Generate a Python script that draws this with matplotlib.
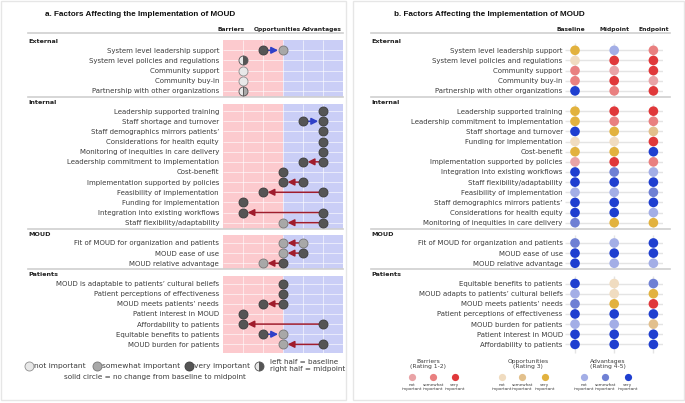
import matplotlib
matplotlib.use("Agg")
import matplotlib.pyplot as plt
import matplotlib.transforms as mtransforms
from matplotlib.patches import Rectangle

plt.rcParams['font.family'] = ['DejaVu Sans']

# ---------------- DATA ----------------
groups = ["External", "Internal", "MOUD", "Patients"]

# Panel a: rating (1-5) at baseline and midpoint, importance (0 not, 1 somewhat, 2 very)
a_labels = [
    ["System level leadership support", "System level policies and regulations",
     "Community support", "Community buy-in", "Partnership with other organizations"],
    ["Leadership supported training", "Staff shortage and turnover",
     "Staff demographics mirrors patients\u2019", "Considerations for health equity",
     "Monitoring of inequities in care delivery", "Leadership commitment to implementation",
     "Cost-benefit", "Implementation supported by policies", "Feasibility of implementation",
     "Funding for implementation", "Integration into existing workflows",
     "Staff flexibility/adaptability"],
    ["Fit of MOUD for organization and patients", "MOUD ease of use", "MOUD relative advantage"],
    ["MOUD is adaptable to patients\u2019 cultural beliefs", "Patient perceptions of effectiveness",
     "MOUD meets patients\u2019 needs", "Patient interest in MOUD", "Affordability to patients",
     "Equitable benefits to patients", "MOUD burden for patients"],
]
a_base = [[2, 1, 1, 1, 1],
          [5, 4, 5, 5, 5, 5, 3, 4, 5, 1, 5, 5],
          [4, 4, 3],
          [3, 3, 3, 1, 5, 2, 5]]
a_mid = [[3, 1, 1, 1, 1],
         [5, 5, 5, 5, 5, 4, 3, 3, 2, 1, 1, 3],
         [3, 3, 2],
         [3, 3, 2, 1, 1, 3, 3]]
a_base_imp = [[2, 0, 0, 0, 0],
              [2, 2, 2, 2, 2, 2, 2, 2, 2, 2, 2, 2],
              [1, 2, 2],
              [2, 2, 2, 2, 2, 2, 2]]
a_mid_imp = [[1, 2, 0, 0, 1],
             [2, 2, 2, 2, 2, 2, 2, 2, 2, 2, 2, 1],
             [1, 1, 1],
             [2, 2, 2, 2, 2, 1, 1]]
a_columns = ["Barriers", "Opportunities", "Advantages"]

# Panel b: category code (B barrier, O opportunity, A advantage) + importance (0,1,2)
b_labels = [
    ["System level leadership support", "System level policies and regulations",
     "Community support", "Community buy-in", "Partnership with other organizations"],
    ["Leadership supported training", "Leadership commitment to implementation",
     "Staff shortage and turnover", "Funding for implementation", "Cost-benefit",
     "Implementation supported by policies", "Integration into existing workflows",
     "Staff flexibility/adaptability", "Feasibility of implementation",
     "Staff demographics mirrors patients\u2019", "Considerations for health equity",
     "Monitoring of inequities in care delivery"],
    ["Fit of MOUD for organization and patients", "MOUD ease of use", "MOUD relative advantage"],
    ["Equitable benefits to patients", "MOUD adapts to patients\u2019 cultural beliefs",
     "MOUD meets patients\u2019 needs", "Patient perceptions of effectiveness",
     "MOUD burden for patients", "Patient interest in MOUD", "Affordability to patients"],
]
b_times = ["Baseline", "Midpoint", "Endpoint"]
b_baseline = [["O2", "O0", "B1", "B1", "A2"],
              ["O2", "O2", "A2", "O0", "O2", "B0", "A2", "A2", "A0", "A2", "A2", "A1"],
              ["A1", "A2", "A2"],
              ["A2", "A0", "A1", "A2", "A0", "A2", "A2"]]
b_midpoint = [["A0", "B2", "B0", "B2", "B1"],
              ["B2", "B1", "O2", "O0", "O2", "B2", "A1", "A2", "A0", "A2", "A2", "O2"],
              ["A0", "A2", "A0"],
              ["O0", "O0", "O2", "A2", "A0", "A2", "A2"]]
b_endpoint = [["B1", "B2", "B2", "B0", "B2"],
              ["B2", "B1", "O1", "B2", "A2", "B1", "A0", "A2", "A1", "A2", "A0", "O2"],
              ["A2", "A2", "A0"],
              ["A1", "O2", "B2", "A2", "O1", "A2", "A2"]]

legend_groups = ["Barriers\n(Rating 1-2)", "Opportunities\n(Rating 3)", "Advantages\n(Rating 4-5)"]
legend_codes = [["B0", "B1", "B2"], ["O0", "O1", "O2"], ["A0", "A1", "A2"]]
imp_names = ["not\nimportant", "somewhat\nimportant", "very\nimportant"]

# ---------------- STYLE ----------------
b_colors = {"B0": "#e9a3a6", "B1": "#e98080", "B2": "#e0383a",
            "O0": "#f0dcc0", "O1": "#e2c08c", "O2": "#e2b23e",
            "A0": "#a3aee6", "A1": "#6f80d4", "A2": "#1f3fd0"}
a_face = ["#e8e8e8", "#a8a8a8", "#555555"]
a_edge = ["#8e8e8e", "#767676", "#3c3c3c"]
pink = "#fccace"
blue = "#cacef6"
txt = "#3c3c3c"
sepc = "#cfcfcf"

W, H = 685, 403
fig = plt.figure(figsize=(W / 100, H / 100), dpi=100)
ov = fig.add_axes([0, 0, 1, 1], zorder=-5)
ov.set_xlim(0, W)
ov.set_ylim(H, 0)
ov.axis("off")

# panel frames
ov.add_patch(Rectangle((1, 1), 345, 399, fill=False, ec="#e6e6e6", lw=1))
ov.add_patch(Rectangle((353, 1), 331, 399, fill=False, ec="#e6e6e6", lw=1))

# row positions (one empty slot between groups for the group heading)
rows = []
start = 0
for lab in a_labels:
    rows.append(list(range(start, start + len(lab))))
    start += len(lab) + 1

ylim = (30.54, -2.2)
ax_bottom = (H - 360) / H
ax_height = 332 / H

axA = fig.add_axes([222.7 / W, ax_bottom, 120.3 / W, ax_height])
axB = fig.add_axes([565.2 / W, ax_bottom, 98.0 / W, ax_height])

for ax in (axA, axB):
    ax.set_ylim(*ylim)
    for s in ax.spines.values():
        s.set_visible(False)
    ax.set_xticks([])
    ax.patch.set_alpha(0)

axA.set_xlim(0, 6)
axB.set_xlim(-0.25, 2.25)

all_rows = [r for g in rows for r in g]
axA.set_yticks(all_rows)
axA.set_yticklabels([l for g in a_labels for l in g])
axB.set_yticks(all_rows)
axB.set_yticklabels([l for g in b_labels for l in g])
axA.tick_params(axis="y", length=0, pad=2.6, labelsize=5.0, labelcolor=txt)
axB.tick_params(axis="y", length=0, pad=1.8, labelsize=5.0, labelcolor=txt)

trA = mtransforms.blended_transform_factory(axA.transAxes, axA.transData)
trB = mtransforms.blended_transform_factory(axB.transAxes, axB.transData)

# ---------------- PANEL A ----------------
for gi, g in enumerate(rows):
    top = g[0] - 1.0 if gi == 0 else g[0] - 0.75
    bot = g[-1] + (0.85 if gi == len(rows) - 1 else 0.6)
    axA.fill_between([0, 3], top, bot, color=pink, lw=0, zorder=0)
    axA.fill_between([3, 6], top, bot, color=blue, lw=0, zorder=0)
    axA.vlines([1, 2, 3, 4, 5], top, bot, color="white", lw=0.7, alpha=0.6, zorder=1)
    axA.hlines(g, 0, 6, color="white", lw=0.7, alpha=0.6, zorder=1)
    axA.text(-1.618, g[0] - 0.85, groups[gi], transform=trA, fontsize=4.6,
             fontweight="bold", color="#202020", va="center", ha="left")
    if gi < len(rows) - 1:
        axA.plot([-1.618, 1.0], [g[-1] + 0.6] * 2, transform=trA, color=sepc, lw=1.2,
                 clip_on=False, zorder=2)

axA.plot([-1.618, 1.0], [-1.71] * 2, transform=trA, color=sepc, lw=1.2, clip_on=False)
for name, xc in zip(a_columns, [0.41, 2.71, 4.96]):
    axA.text(xc, -2.05, name, fontsize=4.3, fontweight="bold", color="#202020",
             ha="center", va="center", clip_on=False)

for gi, g in enumerate(rows):
    for k, y in enumerate(g):
        b, m = a_base[gi][k], a_mid[gi][k]
        bi, mi = a_base_imp[gi][k], a_mid_imp[gi][k]
        if b != m:
            col = "#2f3fc8" if m > b else "#a01c2c"
            axA.annotate("", xy=(m, y), xytext=(b, y),
                         arrowprops=dict(arrowstyle="-|>,head_length=0.4,head_width=0.2",
                                         color=col, lw=1.1, shrinkA=0, shrinkB=3.4,
                                         mutation_scale=10),
                         zorder=2)
            axA.plot([b], [y], "o", ms=6.5, mfc=a_face[bi], mec=a_edge[bi], mew=0.6, zorder=3)
            axA.plot([m], [y], "o", ms=6.5, mfc=a_face[mi], mec=a_edge[mi], mew=0.6, zorder=3)
        elif bi != mi:
            axA.plot([b], [y], "o", ms=6.5, fillstyle="left", mfc=a_face[bi],
                     mfcalt=a_face[mi], mec="#555555", mew=0.6, zorder=3)
        else:
            axA.plot([b], [y], "o", ms=6.5, mfc=a_face[bi], mec=a_edge[bi], mew=0.6, zorder=3)

# legend panel a
ly = 366
for xc, imp, lab in zip([29, 97, 189], [0, 1, 2],
                        ["not important", "somewhat important", "very important"]):
    ov.plot([xc], [ly], "o", ms=6.5, mfc=a_face[imp], mec=a_edge[imp], mew=0.6)
    ov.text(xc + 5, ly, lab, fontsize=5.4, color=txt, va="center", ha="left")
ov.plot([259], [ly], "o", ms=6.5, fillstyle="left", mfc=a_face[0], mfcalt=a_face[2],
        mec="#555555", mew=0.6)
ov.text(270, 362.5, "left half = baseline", fontsize=5.2, color=txt, va="center", ha="left")
ov.text(270, 368.5, "right half = midpoint", fontsize=5.2, color=txt, va="center", ha="left")
ov.text(155, 376.5, "solid circle = no change from baseline to midpoint", fontsize=5.2,
        color=txt, va="center", ha="center")

# ---------------- PANEL B ----------------
for gi, g in enumerate(rows):
    top = g[0] - 0.75
    bot = g[-1] + (0.85 if gi == len(rows) - 1 else 0.5)
    axB.vlines([0, 1, 2], top, bot, color="#e4e4e4", lw=1.0, zorder=0)
    axB.hlines(g, -0.25, 2.25, color="#e4e4e4", lw=1.0, zorder=0)
    axB.text(-1.982, g[0] - 0.85, groups[gi], transform=trB, fontsize=4.6,
             fontweight="bold", color="#202020", va="center", ha="left")
    if gi < len(rows) - 1:
        axB.plot([-1.982, 1.069], [g[-1] + 0.6] * 2, transform=trB, color=sepc, lw=1.2,
                 clip_on=False, zorder=2)
    for ti, series in enumerate([b_baseline, b_midpoint, b_endpoint]):
        cols = [b_colors[c] for c in series[gi]]
        axB.scatter([ti] * len(g), g, s=48, c=cols, lw=0, zorder=3)

axB.plot([-1.982, 1.069], [-1.71] * 2, transform=trB, color=sepc, lw=1.2, clip_on=False)
for name, xc in zip(b_times, [-0.1, 1.0, 2.0]):
    axB.text(xc, -2.05, name, fontsize=4.3, fontweight="bold", color="#202020",
             ha="center", va="center", clip_on=False)

# legend panel b
for gname, cx, xs, codes in zip(legend_groups, [428, 528, 608],
                                [[412, 433, 455], [502, 522, 545], [584, 605, 628]],
                                legend_codes):
    ov.text(cx, 364.3, gname, fontsize=4.3, color=txt, ha="center", va="center",
            linespacing=0.95)
    for x, code, iname in zip(xs, codes, imp_names):
        ov.plot([x], [377.3], "o", ms=5.2, mfc=b_colors[code], mew=0)
        ov.text(x, 387, iname, fontsize=3.0, color=txt, ha="center", va="center",
                linespacing=0.9)

# titles
ov.text(45, 15, "a. Factors Affecting the Implementation of MOUD", fontsize=5.9,
        fontweight="bold", family="Liberation Sans", color="#111111", va="center", ha="left")
ov.text(394, 15, "b. Factors Affecting the Implementation of MOUD", fontsize=5.9,
        fontweight="bold", family="Liberation Sans", color="#111111", va="center", ha="left")

fig.savefig("out.png", dpi=100)
